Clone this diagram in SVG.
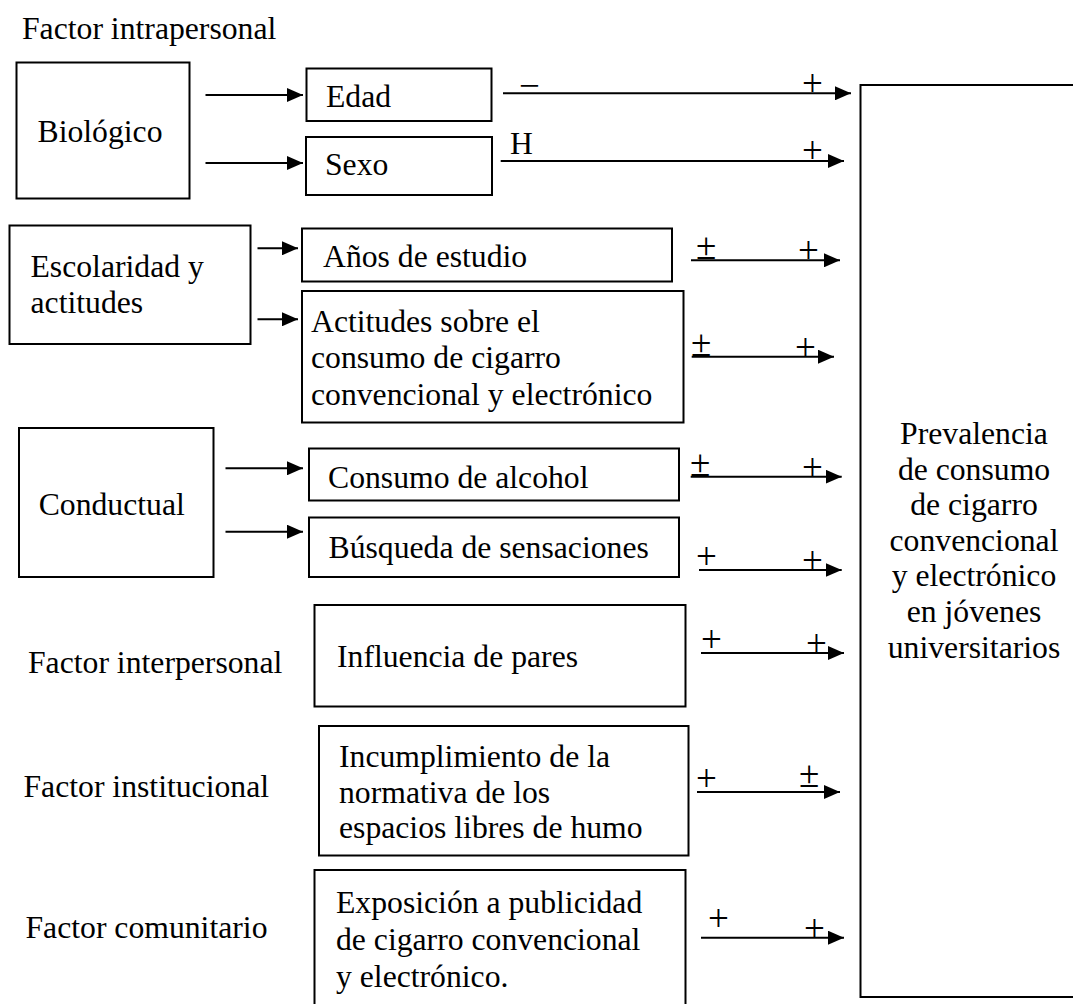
<svg xmlns="http://www.w3.org/2000/svg" width="1073" height="1004" viewBox="0 0 1073 1004">
  <style>
    .box { fill: #fff; stroke: #000; stroke-width: 2; }
    .t { font-family: "Liberation Serif", "Times New Roman", serif; font-size: 31.7px; fill: #000; }
    .s { font-family: "Liberation Serif", "Times New Roman", serif; font-size: 37px; fill: #000; }
    .c { text-anchor: middle; }
    .edge { stroke: #000; stroke-width: 2; fill: none; marker-end: url(#head); }
  </style>
  <defs>
    <marker id="head" markerUnits="userSpaceOnUse" markerWidth="16" markerHeight="14" refX="16" refY="7" orient="auto">
      <path d="M0,0 L16,7 L0,14 z" fill="#000"/>
    </marker>
  </defs>
  <rect width="1073" height="1004" fill="#fff"/>

  <!-- level captions -->
  <g id="captions">
    <text class="t" x="22" y="39">Factor intrapersonal</text>
    <text class="t" x="28" y="673">Factor interpersonal</text>
    <text class="t" x="23.5" y="797">Factor institucional</text>
    <text class="t" x="25.5" y="938">Factor comunitario</text>
  </g>

  <!-- group boxes -->
  <g id="biologico">
    <rect class="box" x="16.5" y="62.5" width="173" height="136"/>
    <text class="t" x="37.5" y="142">Biológico</text>
  </g>
  <g id="escolaridad">
    <rect class="box" x="9.5" y="225.5" width="241" height="118.5"/>
    <text class="t" x="30.5" y="277">Escolaridad y</text>
    <text class="t" x="30.5" y="313">actitudes</text>
  </g>
  <g id="conductual">
    <rect class="box" x="19" y="428" width="194.5" height="149"/>
    <text class="t" x="38.7" y="515">Conductual</text>
  </g>

  <!-- factor boxes -->
  <g id="edad">
    <rect class="box" x="306.5" y="68.5" width="185" height="52.5"/>
    <text class="t" x="326" y="107">Edad</text>
  </g>
  <g id="sexo">
    <rect class="box" x="306" y="137" width="186" height="58"/>
    <text class="t" x="325" y="175">Sexo</text>
  </g>
  <g id="anios">
    <rect class="box" x="302" y="228.5" width="370" height="53"/>
    <text class="t" x="323" y="267">Años de estudio</text>
  </g>
  <g id="actitudes">
    <rect class="box" x="302" y="291" width="381.5" height="131.5"/>
    <text class="t" x="311" y="331.5">Actitudes sobre el</text>
    <text class="t" x="311" y="368">consumo de cigarro</text>
    <text class="t" x="311" y="404.5">convencional y electrónico</text>
  </g>
  <g id="alcohol">
    <rect class="box" x="309" y="448.5" width="370" height="52"/>
    <text class="t" x="328" y="488">Consumo de alcohol</text>
  </g>
  <g id="sensaciones">
    <rect class="box" x="309" y="517.5" width="370" height="59.5"/>
    <text class="t" x="328.5" y="558">Búsqueda de sensaciones</text>
  </g>
  <g id="pares">
    <rect class="box" x="314.5" y="605" width="371" height="101.5"/>
    <text class="t" x="337" y="667">Influencia de pares</text>
  </g>
  <g id="normativa">
    <rect class="box" x="319" y="726" width="369.5" height="129.5"/>
    <text class="t" x="339" y="767">Incumplimiento de la</text>
    <text class="t" x="339" y="803">normativa de los</text>
    <text class="t" x="339" y="838">espacios libres de humo</text>
  </g>
  <g id="publicidad">
    <rect class="box" x="314.5" y="870" width="371" height="140"/>
    <text class="t" x="336" y="913">Exposición a publicidad</text>
    <text class="t" x="336" y="950">de cigarro convencional</text>
    <text class="t" x="336" y="987">y electrónico.</text>
  </g>

  <!-- outcome -->
  <g id="prevalencia">
    <rect class="box" x="860.5" y="85" width="230" height="912"/>
    <text class="t c" x="974" y="444">Prevalencia</text>
    <text class="t c" x="974" y="479.6">de consumo</text>
    <text class="t c" x="974" y="515.2">de cigarro</text>
    <text class="t c" x="974" y="550.8">convencional</text>
    <text class="t c" x="974" y="586.4">y electrónico</text>
    <text class="t c" x="974" y="622">en jóvenes</text>
    <text class="t c" x="974" y="657.6">universitarios</text>
  </g>

  <!-- connectors -->
  <g id="connectors">
    <line class="edge" x1="205.5" y1="95" x2="303" y2="95"/>
    <line class="edge" x1="205.5" y1="163" x2="303" y2="163"/>
    <line class="edge" x1="257.5" y1="248.3" x2="298" y2="248.3"/>
    <line class="edge" x1="257.5" y1="319.3" x2="298" y2="319.3"/>
    <line class="edge" x1="225.5" y1="468.3" x2="303" y2="468.3"/>
    <line class="edge" x1="225.5" y1="531.7" x2="303" y2="531.7"/>

    <line class="edge" x1="503" y1="93.3" x2="851" y2="93.3"/>
    <line class="edge" x1="500.7" y1="161" x2="844" y2="161"/>
    <line class="edge" x1="691" y1="260.3" x2="840" y2="260.3"/>
    <line class="edge" x1="691.7" y1="356.7" x2="834" y2="356.7"/>
    <line class="edge" x1="690.7" y1="476.7" x2="841.7" y2="476.7"/>
    <line class="edge" x1="699" y1="570" x2="841.7" y2="570"/>
    <line class="edge" x1="701" y1="653" x2="844" y2="653"/>
    <line class="edge" x1="697" y1="792" x2="840" y2="792"/>
    <line class="edge" x1="701" y1="937.7" x2="844" y2="937.7"/>
  </g>

  <!-- sign labels on the connectors -->
  <g id="signs">
    <text class="s" x="519" y="98">−</text>
    <text class="s" x="802" y="96">+</text>
    <text class="t" x="510" y="154">H</text>
    <text class="s" x="802" y="163">+</text>
    <text class="s" x="696" y="258.5">±</text>
    <text class="s" x="798" y="263">+</text>
    <text class="s" x="691" y="356">±</text>
    <text class="s" x="795" y="360">+</text>
    <text class="s" x="690" y="476">±</text>
    <text class="s" x="802" y="480">+</text>
    <text class="s" x="696" y="569">+</text>
    <text class="s" x="802" y="573">+</text>
    <text class="s" x="701" y="652">+</text>
    <text class="s" x="806" y="656">+</text>
    <text class="s" x="696" y="791">+</text>
    <text class="s" x="799" y="787">±</text>
    <text class="s" x="708" y="931">+</text>
    <text class="s" x="804" y="941">+</text>
  </g>
</svg>
